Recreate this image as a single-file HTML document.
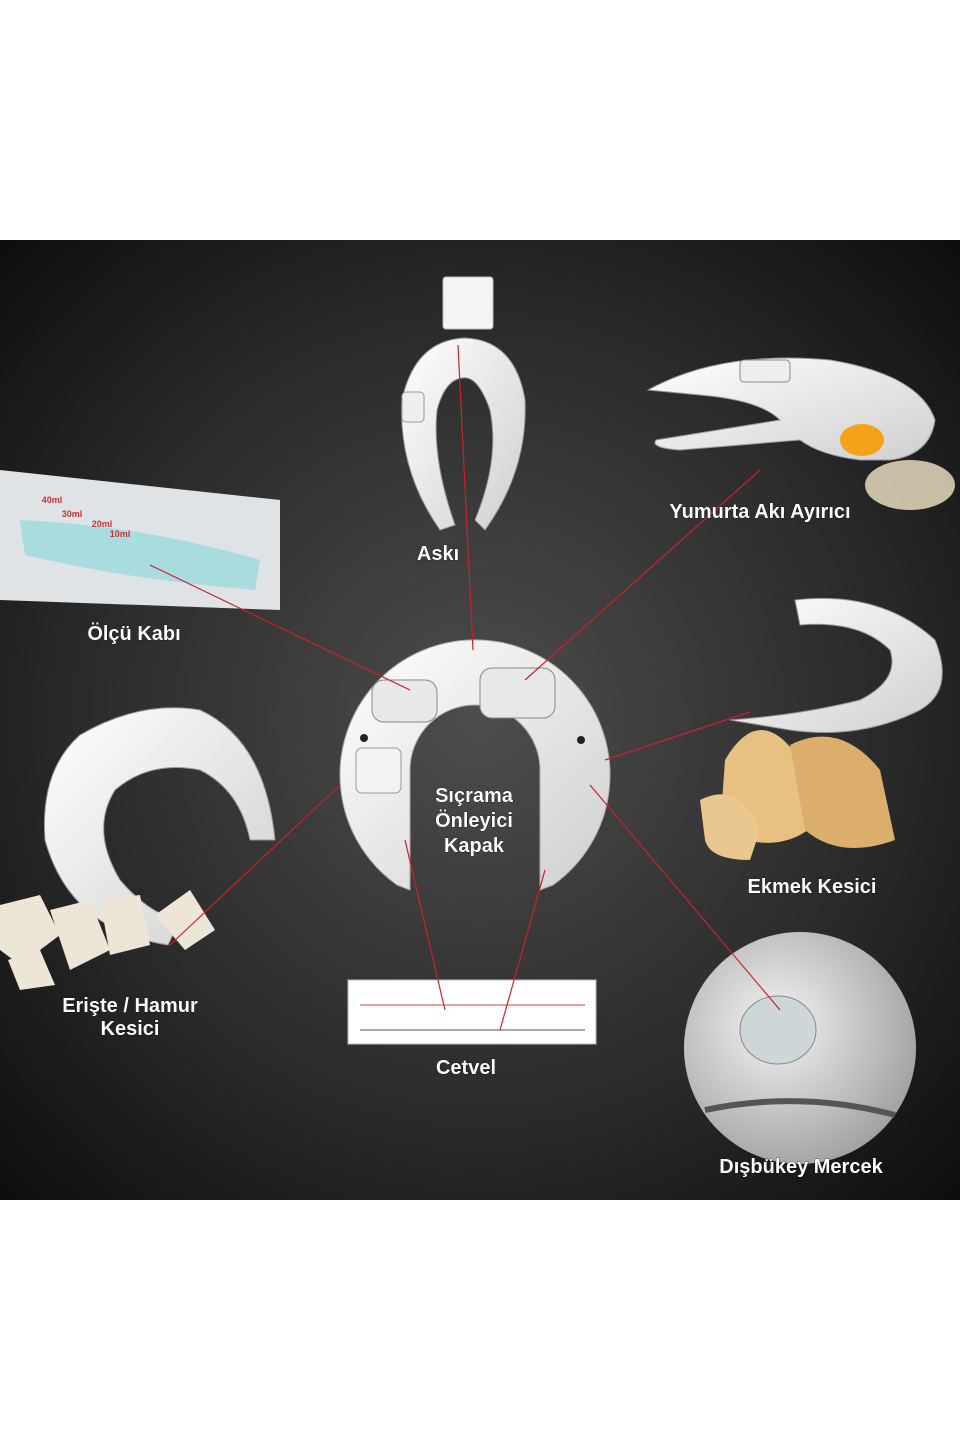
<!DOCTYPE html>
<html><head><meta charset="utf-8"><style>
html,body{margin:0;padding:0;background:#fff;}
svg{display:block}
text{font-family:"Liberation Sans",sans-serif;font-weight:bold;fill:#fff;font-size:20px;text-anchor:middle;stroke:#000;stroke-width:0.6px;paint-order:stroke}
</style></head><body>
<svg width="960" height="1440" viewBox="0 0 960 1440" xmlns="http://www.w3.org/2000/svg">
<defs>
<radialGradient id="bg" cx="0.5" cy="0.5" r="0.7">
<stop offset="0" stop-color="#4d4d4d"/><stop offset="0.6" stop-color="#2a2a2a"/><stop offset="1" stop-color="#0e0e0e"/></radialGradient>
<linearGradient id="wh" x1="0" y1="0" x2="1" y2="1"><stop offset="0" stop-color="#ffffff"/><stop offset="1" stop-color="#cfcfcf"/></linearGradient>
<radialGradient id="lens" cx="0.4" cy="0.4" r="0.7"><stop offset="0" stop-color="#f4f4f4"/><stop offset="1" stop-color="#9a9a9a"/></radialGradient>
</defs>
<rect x="0" y="0" width="960" height="1440" fill="#fff"/>
<rect x="0" y="240" width="960" height="960" fill="url(#bg)"/>

<!-- center horseshoe -->
<path d="M410 890 L397 885 A135 135 0 1 1 553 885 L540 890 L540 770 A65 65 0 0 0 410 770 Z" fill="url(#wh)" stroke="#aaa"/>
<rect x="372" y="680" width="65" height="42" rx="12" fill="#e8e8e8" stroke="#888"/>
<rect x="480" y="668" width="75" height="50" rx="12" fill="#e8e8e8" stroke="#888"/>
<rect x="356" y="748" width="45" height="45" rx="6" fill="#f2f2f2" stroke="#999"/>
<circle cx="364" cy="738" r="4" fill="#222"/><circle cx="581" cy="740" r="4" fill="#222"/>

<!-- Askı -->
<rect x="443" y="277" width="50" height="52" rx="3" fill="#f4f4f4" stroke="#bbb"/>
<path d="M440 530 Q398 470 402 400 Q415 340 465 338 Q515 340 525 400 Q528 470 485 530 L475 520 Q500 460 490 410 Q478 375 462 378 Q445 380 437 410 Q432 460 455 525 Z" fill="url(#wh)" stroke="#999"/>
<rect x="402" y="392" width="22" height="30" rx="4" fill="#eee" stroke="#999"/>

<!-- Yumurta -->
<path d="M648 390 Q720 350 830 360 Q920 375 935 420 Q930 455 890 460 L860 460 Q820 455 800 440 L680 450 Q650 448 656 440 L780 420 Q760 400 700 395 Z" fill="url(#wh)" stroke="#999"/>
<rect x="740" y="360" width="50" height="22" rx="4" fill="#eee" stroke="#888"/>
<ellipse cx="862" cy="440" rx="22" ry="16" fill="#f4a21a"/>
<ellipse cx="910" cy="485" rx="45" ry="25" fill="#f3e6c8" opacity="0.8"/>

<!-- Ölçü Kabı -->
<path d="M0 470 L280 500 L280 610 L0 600 Z" fill="#dfe3e5"/>
<path d="M20 520 Q140 525 260 560 L255 590 Q130 580 25 555 Z" fill="#a8dcdf"/>
<text x="52" y="503" style="font-size:9px;fill:#c33;stroke:none">40ml</text>
<text x="72" y="517" style="font-size:9px;fill:#c33;stroke:none">30ml</text>
<text x="102" y="527" style="font-size:9px;fill:#c33;stroke:none">20ml</text>
<text x="120" y="537" style="font-size:9px;fill:#c33;stroke:none">10ml</text>

<!-- Ekmek kesici -->
<path d="M795 600 Q880 590 935 640 Q955 690 920 710 Q860 740 790 730 L730 720 Q800 715 860 700 Q900 680 890 650 Q860 620 800 625 Z" fill="url(#wh)" stroke="#999"/>
<path d="M725 760 Q760 700 800 760 L820 820 Q780 860 720 830 Z" fill="#e7c181"/>
<path d="M790 745 Q840 720 880 770 L895 840 Q840 860 805 830 Z" fill="#dcae6c"/>
<path d="M700 800 Q740 780 760 830 L750 860 Q710 860 705 840 Z" fill="#e9c78e"/>

<!-- Erişte / Hamur -->
<path d="M168 945 Q70 930 45 840 Q40 770 80 735 Q140 700 200 710 Q265 740 275 840 L250 840 Q240 790 200 770 Q150 760 115 790 Q90 830 120 880 Q150 915 180 920 Z" fill="url(#wh)" stroke="#999"/>
<g fill="#ede6d6"><path d="M0 905 L40 895 L60 935 L20 965 L0 950Z"/><path d="M50 910 L90 900 L110 950 L70 970Z"/><path d="M100 900 L140 895 L150 945 L110 955Z"/><path d="M155 915 L190 890 L215 930 L185 950Z"/><path d="M8 960 L40 950 L55 985 L20 990Z"/></g>

<!-- Ruler -->
<rect x="348" y="980" width="248" height="64" fill="#fff" stroke="#bbb"/>
<line x1="360" y1="1005" x2="585" y2="1005" stroke="#c44" stroke-width="1"/>
<line x1="360" y1="1030" x2="585" y2="1030" stroke="#555" stroke-width="1"/>

<!-- Lens -->
<circle cx="800" cy="1048" r="116" fill="url(#lens)"/>
<ellipse cx="778" cy="1030" rx="38" ry="34" fill="#cfd6da" stroke="#888"/>
<path d="M705 1110 Q800 1090 895 1115" stroke="#555" stroke-width="6" fill="none"/>

<!-- red lines -->
<g stroke="#c8232a" stroke-width="1.2" fill="none">
<line x1="473" y1="650" x2="458" y2="345"/>
<line x1="525" y1="680" x2="760" y2="470"/>
<line x1="410" y1="690" x2="150" y2="565"/>
<line x1="605" y1="760" x2="750" y2="712"/>
<line x1="590" y1="785" x2="780" y2="1010"/>
<line x1="340" y1="785" x2="170" y2="945"/>
<line x1="405" y1="840" x2="445" y2="1010"/>
<line x1="545" y1="870" x2="500" y2="1030"/>
</g>

<!-- labels -->
<text x="438" y="560">Askı</text>
<text x="760" y="518">Yumurta Akı Ayırıcı</text>
<text x="134" y="640">Ölçü Kabı</text>
<text x="812" y="893">Ekmek Kesici</text>
<text x="474" y="802">Sıçrama</text>
<text x="474" y="827">Önleyici</text>
<text x="474" y="852">Kapak</text>
<text x="130" y="1012">Erişte / Hamur</text>
<text x="130" y="1035">Kesici</text>
<text x="466" y="1074">Cetvel</text>
<text x="801" y="1173">Dışbükey Mercek</text>
</svg>
</body></html>
